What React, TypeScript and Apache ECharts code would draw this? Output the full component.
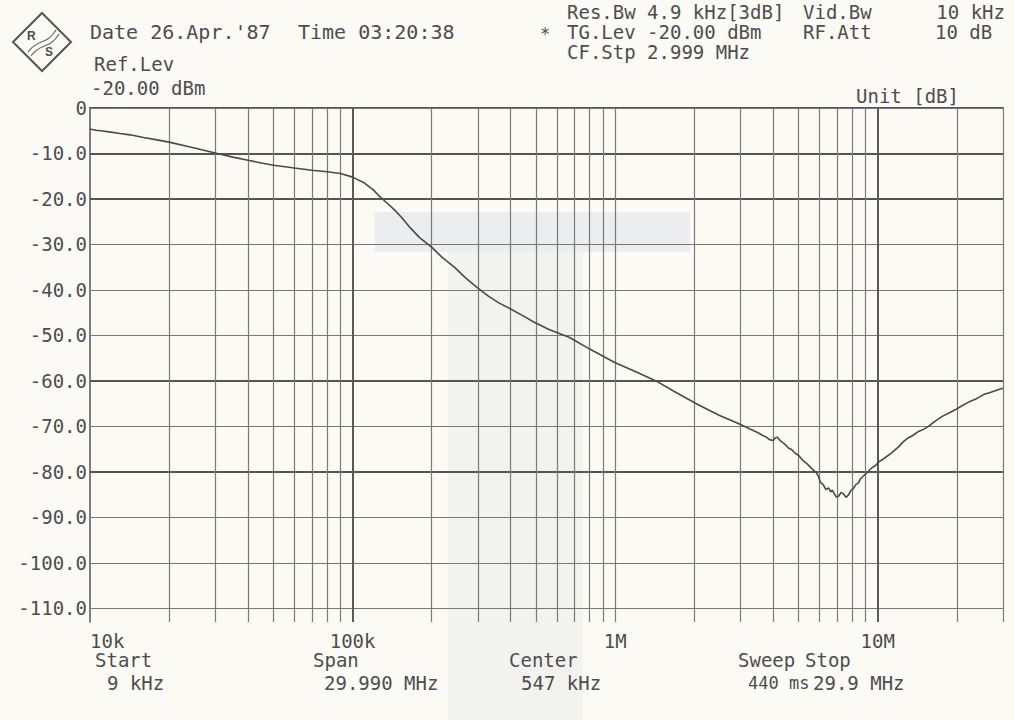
import React, { useEffect, useRef } from "react";
import * as echarts from "echarts";

// Trace: frequency (Hz) and level (dB)
const freqHz = [
  10000, 10500, 11000, 12000, 13000, 14200, 16000, 18000, 20000, 25000,
  30000, 35000, 40000, 45000, 50000, 60000, 70000, 80000, 90000, 100000,
  111000, 120000, 127000, 136000, 145000, 155000, 165000, 180000, 200000, 220000,
  244000, 270000, 300000, 330000, 362000, 400000, 450000, 492000, 560000, 668000,
  800000, 1000000, 1200000, 1430000, 1700000, 2080000, 2500000, 2960000, 3250000, 3500000,
  3620000, 3750000, 3870000, 4000000, 4080000, 4150000, 4220000, 4290000, 4450000, 4580000,
  4680000, 4850000, 5000000, 5210000, 5400000, 5550000, 5690000, 5820000, 5950000, 6050000,
  6150000, 6230000, 6350000, 6500000, 6620000, 6720000, 6800000, 6950000, 7110000, 7250000,
  7420000, 7580000, 7750000, 7900000, 8090000, 8250000, 8450000, 8600000, 8820000, 9100000,
  9500000, 9800000, 10100000, 10600000, 11300000, 12000000, 12500000, 13000000, 13600000, 14300000,
  15000000, 15600000, 16500000, 17600000, 18600000, 19800000, 21000000, 22300000, 23800000, 25300000,
  27000000, 28900000, 30000000,
];
const levelDb = [
  -4.6, -4.9, -5.0, -5.3, -5.6, -5.9, -6.5, -7.0, -7.5, -8.8,
  -9.9, -10.8, -11.5, -12.1, -12.6, -13.2, -13.7, -14.0, -14.4, -15.2,
  -16.5, -18.0, -19.5, -21.0, -22.5, -24.3, -26.2, -28.5, -30.6, -32.9,
  -35.0, -37.4, -39.6, -41.4, -42.9, -44.2, -45.8, -47.1, -48.7, -50.4,
  -53.0, -56.0, -58.0, -60.0, -62.5, -65.3, -67.6, -69.4, -70.5, -71.4,
  -71.9, -72.3, -72.9, -73.1, -72.5, -72.4, -72.9, -73.3, -74.0, -74.8,
  -75.0, -75.9, -76.4, -77.6, -78.3, -79.0, -79.6, -80.1, -81.0, -82.3,
  -82.6, -83.0, -83.9, -83.5, -84.4, -84.0, -84.6, -85.5, -85.3, -84.5,
  -84.9, -85.6, -85.0, -84.1, -83.6, -82.8, -82.4, -81.5, -80.9, -80.2,
  -79.1, -78.6, -77.8, -77.0, -75.8, -74.5, -73.4, -72.6, -72.0, -71.1,
  -70.6, -70.0, -68.9, -67.8, -67.1, -66.3, -65.4, -64.6, -63.9, -63.0,
  -62.5, -61.9, -61.6,
];

const yTicks = [0, -10, -20, -30, -40, -50, -60, -70, -80, -90, -100, -110];
const strongGridDb = [-10, -20, -60, -80];
const xTicks = [10000, 100000, 1000000, 10000000];
const xTickLabels = ["10k", "100k", "1M", "10M"];
const xGridHz = [
  20000, 30000, 40000, 50000, 60000, 70000, 80000, 90000, 100000,
  200000, 300000, 400000, 500000, 600000, 700000, 800000, 900000, 1000000,
  2000000, 3000000, 4000000, 5000000, 6000000, 7000000, 8000000, 9000000, 10000000,
  20000000, 30000000,
];
const strongGridHz = [100000, 10000000];

const FONT = '"DejaVu Sans Mono", "Liberation Mono", monospace';
const INK = "#4d4d4d";

function txt(text: string, x: number, y: number, size = 19, extra: any = {}) {
  return {
    type: "text",
    x,
    y,
    z: 10,
    style: {
      text,
      font: `${size}px ${FONT}`,
      fill: INK,
      verticalAlign: "middle",
      textVerticalAlign: "middle",
      ...extra,
    },
  };
}

export default function App() {
  const ref = useRef<HTMLDivElement>(null);
  useEffect(() => {
    if (!ref.current) return;
    const chart = echarts.init(ref.current, undefined, { renderer: "svg" });
    const data = freqHz.map((f, i) => [f, levelDb[i]]);

    const hLines = yTicks.map((v) => ({
      yAxis: v,
      lineStyle: strongGridDb.includes(v)
        ? { color: "#555", width: 2, type: "solid" }
        : { color: "#777", width: 1.2, type: "solid" },
    }));
    const vLines = xGridHz.map((v) => ({
      xAxis: v,
      lineStyle: strongGridHz.includes(v)
        ? { color: "#5a5a5a", width: 2, type: "solid" }
        : { color: "#7a7a7a", width: 1.2, type: "solid" },
    }));

    const graphics: any[] = [
      // logo
      { type: "polygon", z: 10, shape: { points: [[42, 13], [71, 42], [42, 71], [13, 42]] }, style: { fill: "none", stroke: "#555", lineWidth: 2 } },
      txt("R", 27, 36, 20, { fontWeight: "bold" }),
      txt("S", 45, 52, 20, { fontWeight: "bold" }),
      { type: "bezierCurve", z: 10, shape: { x1: 28, y1: 52, x2: 56, y2: 30, cpx1: 38, cpy1: 38, cpx2: 46, cpy2: 46 }, style: { stroke: "#666", lineWidth: 1.2, fill: "none" } },
      { type: "bezierCurve", z: 10, shape: { x1: 31, y1: 56, x2: 59, y2: 34, cpx1: 41, cpy1: 42, cpx2: 49, cpy2: 50 }, style: { stroke: "#666", lineWidth: 1.2, fill: "none" } },
      // header
      txt("Date 26.Apr.'87", 90, 32, 20),
      txt("Time 03:20:38", 298, 32, 20),
      txt("Ref.Lev", 94, 64, 19),
      txt("-20.00 dBm", 91, 88, 19),
      txt("*", 540, 34, 17),
      txt("Res.Bw 4.9 kHz[3dB]", 567, 12, 19),
      txt("TG.Lev -20.00 dBm", 567, 32, 19),
      txt("CF.Stp 2.999 MHz", 567, 52, 19),
      txt("Vid.Bw", 803, 12, 19),
      txt("10 kHz", 1005, 12, 19, { align: "right", textAlign: "right" }),
      txt("RF.Att", 803, 32, 19),
      txt("10 dB", 935, 32, 19),
      txt("Unit [dB]", 856, 96, 19),
      // footer
      txt("Start", 95, 660, 19),
      txt("9 kHz", 107, 683, 19),
      txt("Span", 313, 660, 19),
      txt("29.990 MHz", 324, 683, 19),
      txt("Center", 509, 660, 19),
      txt("547 kHz", 521, 683, 19),
      txt("Sweep", 738, 660, 19),
      txt("440 ms", 748, 683, 17),
      txt("Stop", 805, 660, 19),
      txt("29.9 MHz", 813, 683, 19),
    ];

    chart.setOption({
      animation: false,
      backgroundColor: "transparent",
      grid: { left: 90, right: 11, top: 108, bottom: 98, containLabel: false },
      xAxis: {
        type: "log",
        logBase: 10,
        min: 10000,
        max: 30000000,
        axisLine: { show: true, lineStyle: { color: "#555", width: 2 } },
        axisTick: { show: false },
        splitLine: { show: false },
        minorSplitLine: { show: false },
        axisLabel: {
          customValues: xTicks,
          margin: 9,
          alignMinLabel: "left",
          fontFamily: FONT,
          fontSize: 19,
          color: INK,
          formatter: (v: number) => {
            const i = xTicks.findIndex((t) => Math.abs(t - v) / t < 1e-6);
            return i >= 0 ? xTickLabels[i] : "";
          },
        },
      },
      yAxis: {
        type: "value",
        min: -113,
        max: 0,
        axisLine: { show: true, lineStyle: { color: "#555", width: 1.5 } },
        axisTick: { show: false },
        splitLine: { show: false },
        axisLabel: {
          customValues: yTicks,
          margin: 3,
          fontFamily: FONT,
          fontSize: 19,
          color: INK,
          formatter: (v: number) => (v === 0 ? "0" : v.toFixed(1)),
        },
      },
      series: [
        {
          type: "line",
          data,
          showSymbol: false,
          symbol: "none",
          lineStyle: { color: "#4a4a4a", width: 1.6 },
          z: 5,
          markLine: {
            silent: true,
            symbol: "none",
            label: { show: false },
            data: [...hLines, ...vLines],
          },
        },
      ],
      graphic: { elements: graphics },
    });
    return () => chart.dispose();
  }, []);
  return (
    <div
      style={{
        position: "absolute",
        left: 0,
        top: 0,
        width: 1014,
        height: 720,
        background: "#fbfaf5",
        overflow: "hidden",
      }}
    >
      <div style={{ position: "absolute", left: 375, top: 212, width: 315, height: 40, background: "rgba(200,210,222,0.3)" }} />
      <div style={{ position: "absolute", left: 448, top: 252, width: 135, height: 468, background: "rgba(205,208,214,0.18)" }} />
      <div
        ref={ref}
        style={{ position: "absolute", left: 0, top: 0, width: 1014, height: 720 }}
      />
    </div>
  );
}
